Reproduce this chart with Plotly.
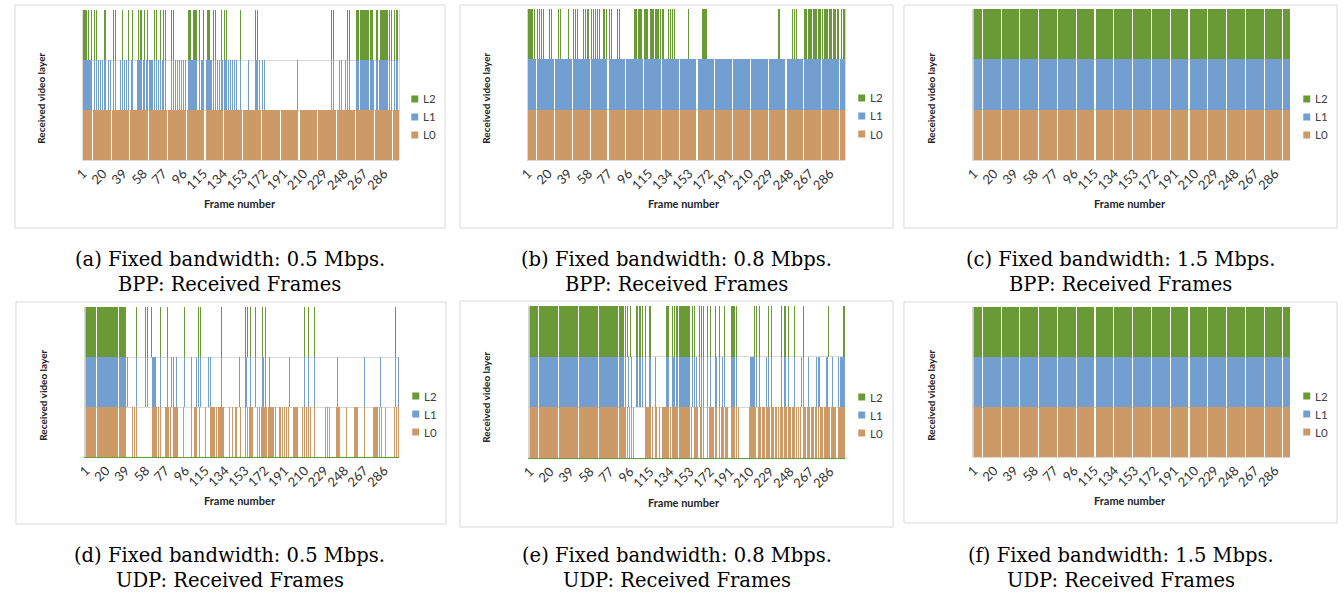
import plotly.graph_objects as go

# ---------------- data ----------------
N_FRAMES = 300
FRAMES = list(range(1, N_FRAMES + 1))
TICK_FRAMES = [1, 20, 39, 58, 77, 96, 115, 134, 153, 172, 191, 210, 229, 248, 267, 286]
TICK_LABELS = ["1", "20", "39", "58", "77", "96", "115", "134", "153", "172",
               "191", "210", "229", "248", "267", "286"]
LAYERS = ["L0", "L1", "L2"]
LEGEND_ORDER = ["L2", "L1", "L0"]
COLORS = {"L0": "#CD9966", "L1": "#739FD0", "L2": "#6A9A35"}
BAR_COLORS = {"L0": "rgba(205,153,102,0.999)", "L1": "rgba(115,159,208,0.999)", "L2": "rgba(106,154,53,0.999)"}

ALL = [(1, 300)]

# received frames per layer (single frames or inclusive ranges)
# (a) 0.5 Mbps, BPP
A_L0 = ALL
A_L1 = [(1, 9), 11, 13, 15, 17, 19, 21, 22, 25, 27, 29, 31, 36, 38, 40, 42, 44, 46, 47, (52, 56), 58, 59,
        (61, 66), 68, 70, 72, 74, 76, 77, 79, 84, 86, 88, 90, 92, 94, 96, 98, (100, 108), 111, (113, 121),
        122, 124, 126, 128, 130, (132, 136), 138, 140, 142, 144, 146, 150, 157, (164, 166), 168, 170, 172,
        204, 236, 238, 243, 245, 249, 251, 253, (259, 261), (263, 271), (273, 276), 278, 279, (281, 289),
        291, 293, 295, 297, 298, 300]
A_L2 = [(1, 4), 6, 9, 11, 13, 21, 22, 29, 31, 38, 44, 47, 53, 55, 56, 59, 62, 68, 70, 74, 77, 79, 84, 86,
        (100, 102), (105, 108), 111, 115, (118, 120), 124, 126, 132, 134, 136, 150, 164, 166, 236, 238,
        251, 253, (259, 261), (263, 271), (273, 275), 278, 279, (282, 288), 289, 291, 293, 295, 297, 298, 300]
# (b) 0.8 Mbps, BPP
B_L0 = ALL
B_L1 = ALL
B_L2 = [(1, 5), 7, 9, 11, 13, 15, 21, 23, 29, 31, 39, 43, 45, 47, 53, 55, 57, 58, 60, 62, 64, 66, 68, 72, 73,
        75, 77, 79, 85, 87, (101, 103), (105, 108), (110, 113), (116, 119), (121, 124), (126, 128), 133, 135,
        137, 139, 152, (165, 169), 237, 238, 250, 252, 254, (261, 263), (265, 268), (270, 273), (275, 278),
        (280, 283), (285, 287), (289, 291), (293, 294), 296, 298, 299, 300]
# (c) 1.5 Mbps, BPP
C_L0 = ALL
C_L1 = ALL
C_L2 = ALL
# (d) 0.5 Mbps, UDP
D_L0 = [(1, 39), 46, 48, 50, (65, 69), 71, 73, (76, 80), 82, (85, 89), 95, 102, (105, 107), 110, 116, 120,
        (121, 124), 126, (128, 133), 139, 141, 144, 145, 149, 154, 156, (158, 161), 165, 167, 169, (170, 174),
        (176, 181), 183, 186, 187, 189, 191, 193, 195, (200, 204), 208, 210, 212, 214, 216, 220, 230, 232,
        234, (241, 244), 250, (258, 261), 268, (276, 280), 282, 284, 288, 296, 298, 300]
D_L1 = [(1, 39), 41, 50, 58, 60, (65, 68), 73, 79, 83, 85, 88, 96, 102, 107, 109, 111, 119, 120, 131, 148,
        154, 155, 159, 163, 170, 171, 173, 177, 196, 210, 214, 220, 242, 268, 283, 297, 300]
D_L2 = [(1, 39), 50, 58, 60, 64, 73, 79, 96, 109, 111, 131, 154, 156, 159, 163, 170, 173, 210, 214, 220, 297]
# (e) 0.8 Mbps, UDP
E_L0 = [(1, 92), 94, 96, 98, 100, (111, 116), 118, 121, 122, 124, (127, 133), 135, (137, 153), 155,
        (158, 161), 163, 164, 166, 170, (172, 176), (178, 181), (183, 185), (187, 189), (193, 196), 198, 199,
        (210, 216), (218, 220), (222, 224), (226, 229), (231, 233), (235, 237), (239, 241), (243, 245),
        (247, 249), (251, 253), 255, 256, 258, (261, 263), (265, 267), (269, 271), (273, 275), (277, 279),
        (281, 286), (288, 292), (294, 300)]
E_L1 = [(1, 90), 92, 95, 98, (103, 106), 108, 111, (115, 116), 121, (131, 133), (137, 139), (141, 153), 156,
        158, 160, 162, 164, 166, 170, 173, (178, 181), 184, 186, (193, 196), 198, (211, 215), 217, 219, 226,
        228, 231, 240, 243, 244, 247, 253, 259, 261, 266, (274, 276), (283, 284), 289, 294, (296, 300)]
E_L2 = [(1, 90), 92, 94, 97, (103, 106), 108, 111, 115, 116, (131, 133), 137, 139, (141, 153), 156, 158,
        162, 164, 166, 170, 173, 178, 181, 186, (193, 196), 198, 215, 217, 219, 228, 231, 240, 243, 244,
        247, 253, 261, 285, (299, 300)]
# (f) 1.5 Mbps, UDP
F_L0 = ALL
F_L1 = ALL
F_L2 = ALL

CAPTIONS = [
    ("(a) Fixed bandwidth: 0.5 Mbps.", "BPP: Received Frames"),
    ("(b) Fixed bandwidth: 0.8 Mbps.", "BPP: Received Frames"),
    ("(c) Fixed bandwidth: 1.5 Mbps.", "BPP: Received Frames"),
    ("(d) Fixed bandwidth: 0.5 Mbps.", "UDP: Received Frames"),
    ("(e) Fixed bandwidth: 0.8 Mbps.", "UDP: Received Frames"),
    ("(f) Fixed bandwidth: 1.5 Mbps.", "UDP: Received Frames"),
]
Y_TITLE = "Received video layer"
X_TITLE = "Frame number"

PANEL_DATA = [
    {"L0": A_L0, "L1": A_L1, "L2": A_L2},
    {"L0": B_L0, "L1": B_L1, "L2": B_L2},
    {"L0": C_L0, "L1": C_L1, "L2": C_L2},
    {"L0": D_L0, "L1": D_L1, "L2": D_L2},
    {"L0": E_L0, "L1": E_L1, "L2": E_L2},
    {"L0": F_L0, "L1": F_L1, "L2": F_L2},
]


def received(spec):
    got = set()
    for item in spec:
        if isinstance(item, tuple):
            got.update(range(item[0], item[1] + 1))
        else:
            got.add(item)
    return [1 if f in got else 0 for f in FRAMES]


# ---------------- layout (pixels) ----------------
W, H = 1344, 595
PANELS = [
    dict(box=(6, 5, 439, 228), plot=(74, 10, 393, 160), leg=(405, 99), yt=(32, 98), xt=(233, 203), cap=(222, 259, 284), base_line="#d9d9d9"),
    dict(box=(454, 5, 890, 228), plot=(522, 9, 842, 160), leg=(855, 98), yt=(480, 98), xt=(680, 203), cap=(672, 259, 284), base_line="#d9d9d9"),
    dict(box=(901, 5, 1337, 228), plot=(971, 9, 1290, 160), leg=(1303, 99), yt=(928, 98), xt=(1129, 203), cap=(1119, 259, 284), base_line="#d9d9d9"),
    dict(box=(7, 302, 440, 524), plot=(77, 307, 393, 457), leg=(406, 396), yt=(34, 395), xt=(233, 500), cap=(222, 555, 580), base_line="#6A9A35"),
    dict(box=(454, 301, 890, 527), plot=(524, 306, 842, 458), leg=(855, 397), yt=(480, 397), xt=(680, 502), cap=(672, 555, 580), base_line="#6A9A35"),
    dict(box=(901, 302, 1337, 523), plot=(971, 307, 1290, 457), leg=(1303, 396), yt=(928, 395), xt=(1129, 500), cap=(1119, 555, 580), base_line="#d9d9d9"),
]


def fx(x):
    return x / W


def fy(y):
    return 1 - y / H


fig = go.Figure()
shapes = []
annotations = []
layout_axes = {}
SANS = "Lato, 'Open Sans', sans-serif"
SERIF = "'DejaVu Serif', 'Liberation Serif', serif"

for i, (pan, data, cap) in enumerate(zip(PANELS, PANEL_DATA, CAPTIONS), start=1):
    xa, ya = f"x{i}", f"y{i}"
    x0, y0, x1, y1 = pan["plot"]
    # one bar = one pixel wide, so that pixel rounding leaves the occasional seam
    bar_w = N_FRAMES / (x1 - x0)
    for k, layer in enumerate(LAYERS):
        fig.add_trace(go.Bar(
            x=FRAMES, y=received(data[layer]), base=k, width=bar_w,
            marker=dict(color=BAR_COLORS[layer], line=dict(width=0)),
            name=layer, showlegend=False, xaxis=xa, yaxis=ya, hoverinfo="skip"))
    layout_axes[f"xaxis{i}"] = dict(
        domain=[fx(x0), fx(x1)], anchor=ya, range=[0.5, N_FRAMES + 0.5],
        tickmode="array", tickvals=TICK_FRAMES, ticktext=TICK_LABELS, tickangle=-45,
        ticks="", showgrid=False, zeroline=False, showline=True, linecolor=pan["base_line"],
        linewidth=1, layer="below traces",
        tickfont=dict(family=SANS, size=13, color="#333333"), fixedrange=True)
    layout_axes[f"yaxis{i}"] = dict(
        domain=[fy(y1), fy(y0)], anchor=xa, range=[0, 3],
        tickmode="array", tickvals=[1, 2, 3], showticklabels=False, ticks="",
        showgrid=True, gridcolor="#d9d9d9", gridwidth=1, zeroline=False,
        showline=True, linecolor="#d9d9d9", layer="below traces", fixedrange=True)
    bx0, by0, bx1, by1 = pan["box"]
    shapes.append(dict(type="rect", xref="paper", yref="paper",
                       x0=fx(bx0), x1=fx(bx1), y0=fy(by1), y1=fy(by0),
                       line=dict(color="#d9d9d9", width=1), fillcolor="rgba(0,0,0,0)", layer="below"))
    # legend
    lx, ly = pan["leg"]
    for r, layer in enumerate(LEGEND_ORDER):
        cy = ly + r * 18
        shapes.append(dict(type="rect", xref="paper", yref="paper",
                           x0=fx(lx), x1=fx(lx + 7), y0=fy(cy + 3.5), y1=fy(cy - 3.5),
                           line=dict(width=0), fillcolor=COLORS[layer]))
        annotations.append(dict(text=layer, xref="paper", yref="paper", x=fx(lx + 10), y=fy(cy),
                                xanchor="left", yanchor="middle", showarrow=False,
                                font=dict(family=SANS, size=11.5, color="#404040")))
    # axis titles
    tx, ty = pan["yt"]
    annotations.append(dict(text=f"<b>{Y_TITLE}</b>", xref="paper", yref="paper", x=fx(tx), y=fy(ty),
                            xanchor="center", yanchor="middle", textangle=-90, showarrow=False,
                            font=dict(family=SANS, size=10, color="#262626")))
    tx, ty = pan["xt"]
    annotations.append(dict(text=f"<b>{X_TITLE}</b>", xref="paper", yref="paper", x=fx(tx), y=fy(ty),
                            xanchor="center", yanchor="middle", showarrow=False,
                            font=dict(family=SANS, size=11, color="#262626")))
    # captions
    cx, c1, c2 = pan["cap"]
    for line, cyy in zip(cap, (c1, c2)):
        annotations.append(dict(text=line, xref="paper", yref="paper", x=fx(cx), y=fy(cyy),
                                xanchor="center", yanchor="middle", showarrow=False,
                                font=dict(family=SERIF, size=19.5, color="#000000")))

fig.update_layout(
    width=W, height=H, margin=dict(l=0, r=0, t=0, b=0),
    paper_bgcolor="white", plot_bgcolor="white",
    barmode="overlay", bargap=0, showlegend=False,
    shapes=shapes, annotations=annotations, **layout_axes)

fig.write_html(
    "out.html", config={"displayModeBar": False},
    post_script="document.body.style.margin='0';document.body.style.overflow='hidden';")
